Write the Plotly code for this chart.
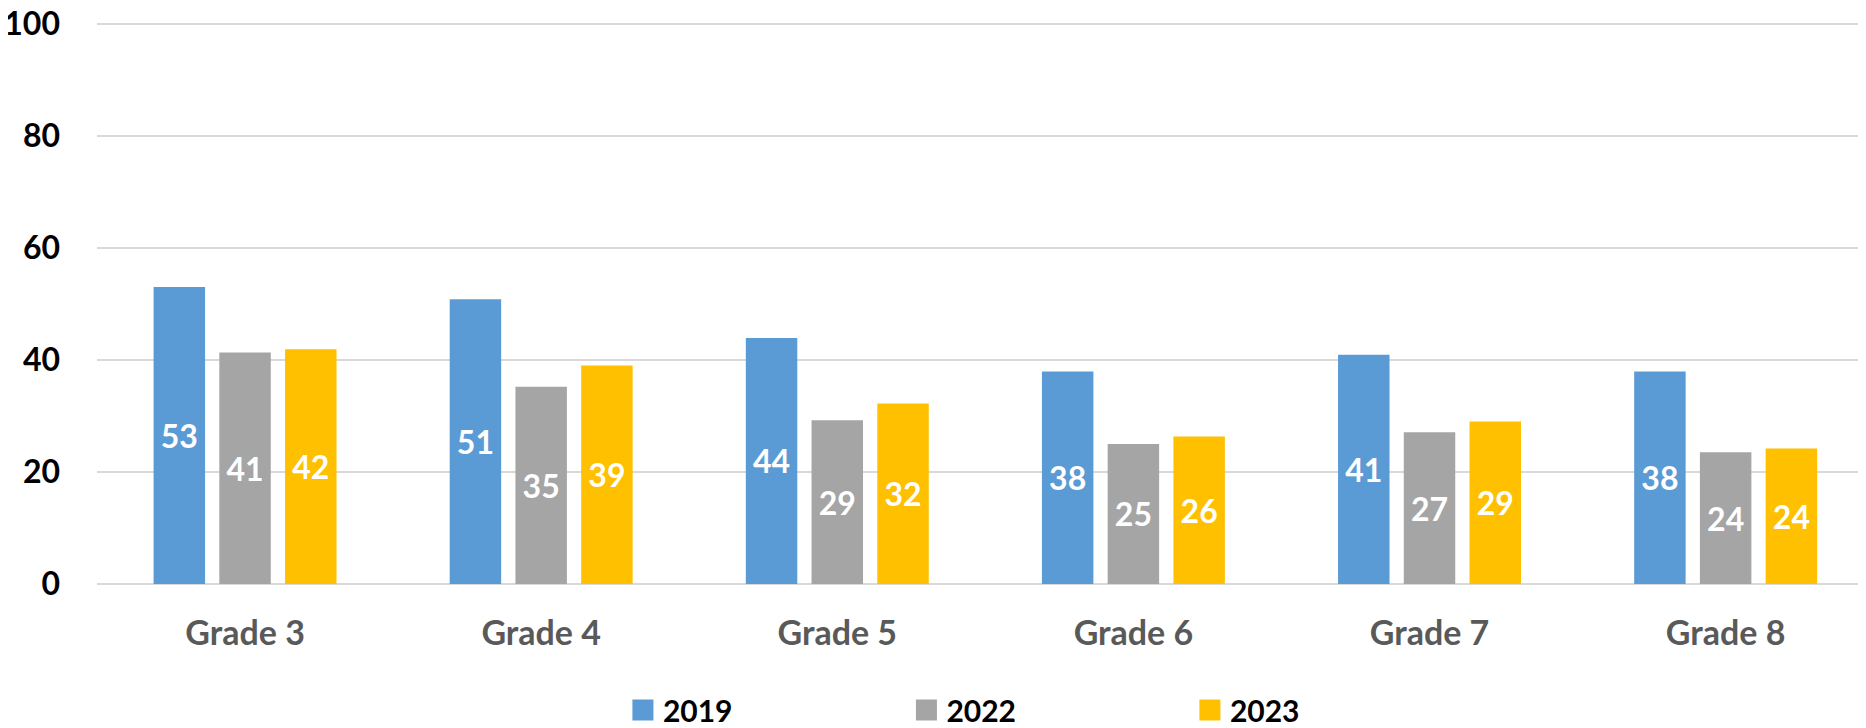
import plotly.graph_objects as go

grades = ["Grade 3", "Grade 4", "Grade 5", "Grade 6", "Grade 7", "Grade 8"]
years = ["2019", "2022", "2023"]
values_2019 = [53.0, 50.8, 43.9, 37.9, 40.9, 37.9]
values_2022 = [41.3, 35.2, 29.2, 25.0, 27.1, 23.5]
values_2023 = [41.9, 39.0, 32.2, 26.3, 29.0, 24.2]
labels_2019 = ["53", "51", "44", "38", "41", "38"]
labels_2022 = ["41", "35", "29", "25", "27", "24"]
labels_2023 = ["42", "39", "32", "26", "29", "24"]
y_ticks = [0, 20, 40, 60, 80, 100]

colors = ["#5B9BD5", "#A5A5A5", "#FFC000"]
series = [values_2019, values_2022, values_2023]
labels = [labels_2019, labels_2022, labels_2023]

fig = go.Figure()
for name, vals, lab, col in zip(years, series, labels, colors):
    fig.add_trace(go.Bar(
        x=grades, y=vals, name=name, text=lab,
        marker=dict(color=col, line=dict(width=0)),
        textposition="inside", insidetextanchor="middle", textangle=0,
        constraintext="none",
        textfont=dict(family="Lato", size=32, color="white", weight="bold"),
        showlegend=False, hoverinfo="skip",
    ))
# legend entries
for name, col in zip(years, colors):
    fig.add_trace(go.Scatter(
        x=[None], y=[None], mode="markers", name=name,
        marker=dict(symbol="square", size=16, color=col, line=dict(color=col, width=5)),
        showlegend=True, hoverinfo="skip",
    ))

fig.update_layout(
    width=1858, height=720,
    margin=dict(l=89, r=0, t=10, b=144, autoexpand=False),
    paper_bgcolor="white", plot_bgcolor="white",
    barmode="group", bargap=0.334, bargroupgap=0.217,
    legend=dict(
        orientation="h", x=0.2973, xanchor="left", y=-0.1767, yanchor="top",
        font=dict(family="Lato", size=30, color="black", weight="bold"),
        entrywidth=238.5, itemsizing="trace",
    ),
    xaxis=dict(
        range=[-0.5, 5.474],
        showgrid=False, showline=False, zeroline=False, automargin=False,
        tickfont=dict(family="Lato", size=34, color="#595959", weight="bold"),
        ticks="", ticklabelstandoff=26,
    ),
    yaxis=dict(
        range=[0, 101], tickvals=y_ticks, showgrid=True, gridcolor="#D9D9D9", gridwidth=2,
        zeroline=True, zerolinecolor="#D9D9D9", zerolinewidth=2, showline=False,
        automargin=False, ticklabeloverflow="allow",
        tickfont=dict(family="Lato", size=32, color="black", weight="bold"),
        ticks="", ticklabelstandoff=36,
    ),
)

fig.write_html("out.html")
